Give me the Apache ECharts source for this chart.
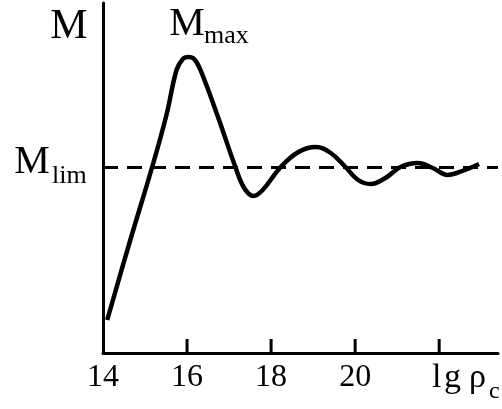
<!DOCTYPE html>
<html>
<head>
<meta charset="utf-8">
<script src="https://cdn.jsdelivr.net/npm/echarts@6/dist/echarts.min.js"></script>
<style>
	html, body { margin: 0; padding: 0; background: #fff; }
	#chart { width: 502px; height: 409px; }
</style>
</head>
<body>
<div id="chart"></div>
<script>
// lg(rho_c) positions and mass values
var lgRho = [14.1, 14.65, 15.17, 15.51, 15.75, 15.9, 16.03, 16.17, 16.32, 16.72, 17.15, 17.36, 17.58, 17.8, 18.23, 18.65, 19.06, 19.42, 19.77, 20.07, 20.37, 20.72, 21.08, 21.49, 21.85, 22.2, 22.55, 22.95];
var massValues = [3.3, 11.3, 18.6, 23.8, 28.3, 29.4, 29.6, 29.4, 28.3, 23.8, 18.6, 16.5, 15.7, 16.3, 18.6, 20.1, 20.6, 20.0, 18.6, 17.3, 16.9, 17.5, 18.6, 19.0, 18.5, 17.8, 18.2, 18.9];
var mLimit = 18.6;
var tickValues = [16, 18, 20, 22];
var labelValues = [14, 16, 18, 20];

var points = [];
for (var i = 0; i < lgRho.length; i++) {
	points.push([lgRho[i], massValues[i]]);
}

// short ticks standing up from the x axis
var tickData = tickValues.map(function (v) { return [v, 0]; });

var serif = '"Liberation Serif", "DejaVu Serif", serif';
var chart = echarts.init(document.getElementById('chart'));
chart.setOption({
	animation: false,
	backgroundColor: '#fff',
	grid: { left: 103, top: 3, width: 395, height: 350 },
	xAxis: {
		type: 'value',
		min: 14,
		max: 23.4,
		interval: 2,
		splitLine: { show: false },
		axisLine: { lineStyle: { color: '#000', width: 3 } },
		axisTick: { show: false },
		axisLabel: {
			customValues: labelValues,
			color: '#000',
			fontFamily: serif,
			fontSize: 32,
			margin: 9
		}
	},
	yAxis: {
		type: 'value',
		min: 0,
		max: 35,
		splitLine: { show: false },
		axisLine: { show: true, lineStyle: { color: '#000', width: 3 } },
		axisTick: { show: false },
		axisLabel: { show: false }
	},
	series: [{
		type: 'line',
		data: points,
		smooth: 0.4,
		showSymbol: false,
		lineStyle: { color: '#000', width: 4.5 },
		markLine: {
			silent: true,
			symbol: 'none',
			label: { show: false },
			lineStyle: { color: '#000', width: 3, type: [15, 9] },
			data: [{ yAxis: mLimit }]
		}
	}, {
		type: 'custom',
		data: tickData,
		z: 5,
		renderItem: function (params, api) {
			var p = api.coord([api.value(0), api.value(1)]);
			return {
				type: 'line',
				shape: { x1: p[0], y1: p[1], x2: p[0], y2: p[1] - 14 },
				style: { stroke: '#000', lineWidth: 3 }
			};
		}
	}],
	graphic: [
		{ type: 'text', x: 69, y: 27, style: { text: 'M', font: '42px ' + serif, fill: '#000', textAlign: 'center', textVerticalAlign: 'middle' } },
		{ type: 'text', x: 187, y: 24, style: { text: 'M', font: '40px ' + serif, fill: '#000', textAlign: 'center', textVerticalAlign: 'middle' } },
		{ type: 'text', x: 204, y: 36, style: { text: 'max', font: '26px ' + serif, fill: '#000', textAlign: 'left', textVerticalAlign: 'middle' } },
		{ type: 'text', x: 32, y: 162, style: { text: 'M', font: '40px ' + serif, fill: '#000', textAlign: 'center', textVerticalAlign: 'middle' } },
		{ type: 'text', x: 52, y: 176, style: { text: 'lim', font: '26px ' + serif, fill: '#000', textAlign: 'left', textVerticalAlign: 'middle' } },
		{ type: 'text', x: 432, y: 378, style: { text: 'l', font: '34px ' + serif, fill: '#000', textAlign: 'left', textVerticalAlign: 'middle' } },
		{ type: 'text', x: 444, y: 378, style: { text: 'g', font: '34px ' + serif, fill: '#000', textAlign: 'left', textVerticalAlign: 'middle' } },
		{ type: 'text', x: 469, y: 378, style: { text: 'ρ', font: '34px ' + serif, fill: '#000', textAlign: 'left', textVerticalAlign: 'middle' } },
		{ type: 'text', x: 489, y: 392, style: { text: 'c', font: '24px ' + serif, fill: '#000', textAlign: 'left', textVerticalAlign: 'middle' } }
	]
});
</script>
</body>
</html>
